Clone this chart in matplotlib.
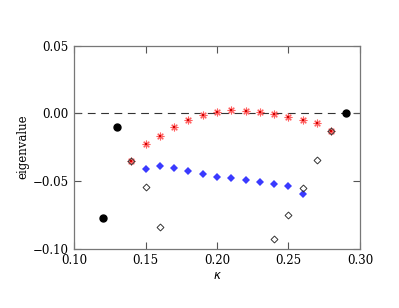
import numpy as np
import matplotlib
matplotlib.use("Agg")
import matplotlib.pyplot as plt

plt.rcParams['font.family'] = ['DejaVu Serif']

# eigenvalues vs kappa
kappa_dot = [0.12, 0.13, 0.29]
eig_dot = [-0.0775, -0.0100, 0.0000]

kappa_red = [0.14, 0.15, 0.16, 0.17, 0.18, 0.19, 0.20, 0.21,
             0.22, 0.23, 0.24, 0.25, 0.26, 0.27, 0.28]
eig_red = [-0.0350, -0.0227, -0.0165, -0.0101, -0.0049, -0.0010, 0.0010, 0.0022,
           0.0019, 0.0010, -0.0007, -0.0025, -0.0047, -0.0069, -0.0133]
err_red = [0.0012] * len(kappa_red)

kappa_blue = [0.15, 0.16, 0.17, 0.18, 0.19, 0.20, 0.21, 0.22,
              0.23, 0.24, 0.25, 0.26]
eig_blue = [-0.0411, -0.0392, -0.0404, -0.0426, -0.0448, -0.0468, -0.0480, -0.0493,
            -0.0505, -0.0522, -0.0537, -0.0596]
err_blue = [0.0014] * len(kappa_blue)

kappa_open = [0.14, 0.15, 0.16, 0.24, 0.25, 0.26, 0.27, 0.28]
eig_open = [-0.0350, -0.0542, -0.0843, -0.0930, -0.0751, -0.0552, -0.0343, -0.0133]

fig = plt.figure(figsize=(3.99, 3.08), dpi=100)
ax = fig.add_axes([0.186, 0.193, 0.716, 0.659])

ax.axhline(0, color='#333333', lw=0.8, dashes=(7, 5), zorder=1)

# red: asterisk with error bars
ax.errorbar(kappa_red, eig_red, yerr=err_red, fmt='none', ecolor='#ff6666',
            elinewidth=0.7, capsize=0, zorder=3)
ax.plot(kappa_red, eig_red, marker=(8, 2, 0), ls='none', color='#ff6060',
        ms=5.5, mew=0.8, zorder=3)
ax.plot(kappa_red, eig_red, 's', ls='none', color='#d00000', ms=1.5, mew=0, zorder=3)

# blue: small diamonds with error bars
ax.errorbar(kappa_blue, eig_blue, yerr=err_blue, fmt='none', ecolor='#5050ff',
            elinewidth=1.0, capsize=0, zorder=3)
ax.plot(kappa_blue, eig_blue, 'D', ls='none', color='#3a3aff', ms=3.8,
        mew=0, zorder=3)

ax.plot(kappa_open, eig_open, 'D', ls='none', mfc='none', mec='#333333',
        ms=3.5, mew=0.7, zorder=4)
ax.plot(kappa_dot, eig_dot, 'o', ls='none', color='black', ms=5, zorder=5)

ax.set_xlim(0.10, 0.30)
ax.set_ylim(-0.10, 0.05)
ax.set_xticks([0.10, 0.15, 0.20, 0.25, 0.30])
ax.set_yticks([-0.10, -0.05, 0.00, 0.05])
ax.set_xticklabels(['0.10', '0.15', '0.20', '0.25', '0.30'])
ax.set_yticklabels(['\u22120.10', '\u22120.05', '0.00', '0.05'])
ax.tick_params(direction='in', length=5, width=0.8, color='#555555',
               top=True, right=True, labelsize=8.5, pad=4)
for s in ax.spines.values():
    s.set_color('#777777')
    s.set_linewidth(0.9)

ax.set_xlabel(r'$\kappa$', fontsize=8.5, labelpad=1)
ax.set_ylabel('eigenvalue', fontsize=8.5, labelpad=2)

fig.savefig('out.png', dpi=100)
